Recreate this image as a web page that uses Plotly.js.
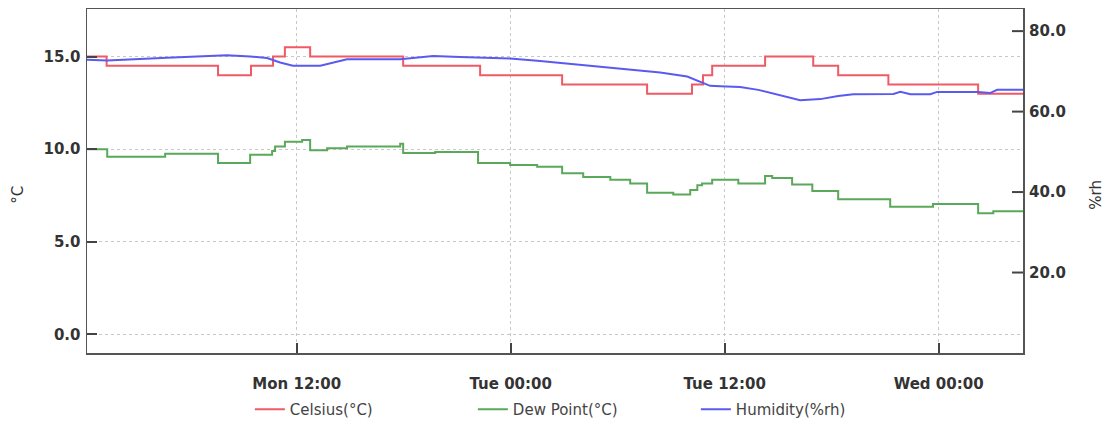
<!DOCTYPE html>
<html>
<head>
<meta charset="utf-8">
<script src="https://cdn.plot.ly/plotly-3.0.1.min.js"></script>
<style>html,body{margin:0;padding:0;background:#fff;}#chart{width:1106px;height:423px;}</style>
</head>
<body>
<div id="chart"></div>
<script>
// Celsius (°C) – step series
const celsiusTime = ["2023-01-02 00:14","2023-01-02 01:20","2023-01-02 07:35","2023-01-02 09:26","2023-01-02 10:40","2023-01-02 11:20","2023-01-02 12:45","2023-01-02 17:58","2023-01-02 22:17","2023-01-03 02:53","2023-01-03 07:39","2023-01-03 10:10","2023-01-03 10:47","2023-01-03 11:18","2023-01-03 14:16","2023-01-03 16:58","2023-01-03 18:22","2023-01-03 21:11","2023-01-04 02:13","2023-01-04 04:44"];
const celsiusValue = [15.0,14.5,14.0,14.5,15.0,15.5,15.0,14.5,14.0,13.5,13.0,13.5,14.0,14.5,15.0,14.5,14.0,13.5,13.0,13.0];

// Dew point (°C)
const dewTime = ["2023-01-02 00:14","2023-01-02 01:22","2023-01-02 04:37","2023-01-02 07:35","2023-01-02 09:23","2023-01-02 10:37","2023-01-02 10:47","2023-01-02 11:20","2023-01-02 12:18","2023-01-02 12:45","2023-01-02 13:42","2023-01-02 14:49","2023-01-02 17:48","2023-01-02 17:58","2023-01-02 19:46","2023-01-02 22:10","2023-01-02 23:58","2023-01-03 01:29","2023-01-03 02:53","2023-01-03 04:04","2023-01-03 05:35","2023-01-03 06:42","2023-01-03 07:39","2023-01-03 09:07","2023-01-03 10:04","2023-01-03 10:28","2023-01-03 10:44","2023-01-03 11:18","2023-01-03 12:46","2023-01-03 14:16","2023-01-03 14:40","2023-01-03 15:47","2023-01-03 16:55","2023-01-03 18:22","2023-01-03 21:17","2023-01-03 23:41","2023-01-04 02:13","2023-01-04 03:04","2023-01-04 04:44"];
const dewValue = [10.0,9.6,9.75,9.25,9.7,9.9,10.15,10.4,10.5,9.95,10.05,10.15,10.3,9.8,9.85,9.25,9.15,9.05,8.7,8.5,8.35,8.15,7.65,7.55,7.8,8.05,8.15,8.35,8.15,8.55,8.45,8.1,7.75,7.3,6.9,7.05,6.55,6.65,6.65];

// Humidity (%rh)
const humTime = ["2023-01-02 00:14","2023-01-02 01:22","2023-01-02 04:43","2023-01-02 08:05","2023-01-02 09:23","2023-01-02 10:20","2023-01-02 11:04","2023-01-02 11:47","2023-01-02 13:19","2023-01-02 14:02","2023-01-02 14:49","2023-01-02 17:48","2023-01-02 19:39","2023-01-02 21:10","2023-01-02 23:58","2023-01-03 01:39","2023-01-03 03:44","2023-01-03 06:08","2023-01-03 08:23","2023-01-03 09:54","2023-01-03 10:38","2023-01-03 11:11","2023-01-03 11:45","2023-01-03 12:52","2023-01-03 13:53","2023-01-03 15:14","2023-01-03 16:14","2023-01-03 17:22","2023-01-03 18:22","2023-01-03 19:13","2023-01-03 21:28","2023-01-03 21:51","2023-01-03 22:25","2023-01-03 23:32","2023-01-03 23:55","2023-01-04 02:13","2023-01-04 02:53","2023-01-04 03:17","2023-01-04 04:44"];
const humValue = [72.9,72.7,73.4,74.0,73.7,73.3,72.2,71.4,71.4,72.1,73.0,73.0,73.8,73.6,73.2,72.6,71.7,70.7,69.7,68.7,67.4,66.4,66.3,66.1,65.4,63.9,62.8,63.1,63.9,64.3,64.4,64.9,64.3,64.3,64.9,64.9,64.6,65.4,65.4];

const seriesNames = ["Celsius(°C)","Dew Point(°C)","Humidity(%rh)"];
const seriesColors = ["#f05a64","#5aa85a","#5a5af0"];
const axisTitles = ["°C", "%rh"];
const leftTicks = [0, 5, 10, 15];
const rightTicks = [20, 40, 60, 80];

const traces = [
  {x: celsiusTime, y: celsiusValue, name: seriesNames[0], type: "scatter", mode: "lines",
   line: {color: seriesColors[0], width: 2, shape: "hv"}, yaxis: "y"},
  {x: dewTime, y: dewValue, name: seriesNames[1], type: "scatter", mode: "lines",
   line: {color: seriesColors[1], width: 2, shape: "hv"}, yaxis: "y"},
  {x: humTime, y: humValue, name: seriesNames[2], type: "scatter", mode: "lines",
   line: {color: seriesColors[2], width: 2, shape: "linear"}, yaxis: "y2"}
];

const tickFont = {family: "DejaVu Sans", size: 15, color: "#333", weight: "bold"};
const titleFont = {family: "DejaVu Sans", size: 15, color: "#333"};

// inside tick marks for the right-hand (%rh) axis, one per tick value
const rightTickMarks = rightTicks.map(v => ({
  type: "line", xref: "paper", yref: "y2", x0: 1 - 11 / 935.7, x1: 1, y0: v, y1: v,
  line: {color: "#444", width: 2}, layer: "above"
}));

const layout = {
  width: 1106, height: 423,
  margin: {l: 87, r: 83, t: 9, b: 70, autoexpand: false},
  paper_bgcolor: "#fff", plot_bgcolor: "#fff",
  showlegend: true,
  hovermode: false,
  legend: {orientation: "h", xref: "paper", x: 0.174, xanchor: "left",
           yref: "container", y: 0.032, yanchor: "middle",
           font: {family: "DejaVu Sans", size: 15, color: "#444"}, entrywidth: 178},
  shapes: rightTickMarks,
  annotations: [
    {text: axisTitles[0], xref: "paper", yref: "paper", x: -0.0737, y: 0.46,
     textangle: -90, showarrow: false, font: titleFont, xanchor: "center", yanchor: "middle"},
    {text: axisTitles[1], xref: "paper", yref: "paper", x: 1.078, y: 0.46,
     textangle: -90, showarrow: false, font: titleFont, xanchor: "center", yanchor: "middle"}
  ],
  xaxis: {
    type: "date",
    range: ["2023-01-02 00:14", "2023-01-04 04:44"],
    tickmode: "linear", tick0: "2023-01-02 00:00", dtick: 43200000,
    tickformat: "%a %H:%M",
    tickfont: tickFont,
    ticks: "inside", ticklen: 10, tickwidth: 2, tickcolor: "#444",
    showline: true, mirror: true, linecolor: "#555", linewidth: 1.5,
    showgrid: true, gridcolor: "#c8c8c8", griddash: "dot", gridwidth: 1,
    zeroline: false, ticklabelstandoff: 16
  },
  yaxis: {
    range: [-1, 17.57],
    tickvals: leftTicks, tickformat: ".1f",
    tickfont: tickFont,
    ticks: "inside", ticklen: 10, tickwidth: 2, tickcolor: "#444",
    showline: true, mirror: true, linecolor: "#555", linewidth: 1.5,
    showgrid: true, gridcolor: "#c8c8c8", griddash: "dot", gridwidth: 1,
    zeroline: false, ticklabelstandoff: 2
  },
  yaxis2: {
    overlaying: "y", side: "right",
    range: [0, 85.5],
    tickvals: rightTicks, tickformat: ".1f",
    tickfont: tickFont,
    ticks: "", 
    showline: false, showgrid: false, zeroline: false,
    ticklabelstandoff: 5
  }
};

Plotly.newPlot("chart", traces, layout, {displayModeBar: false, staticPlot: true});
</script>
</body>
</html>
